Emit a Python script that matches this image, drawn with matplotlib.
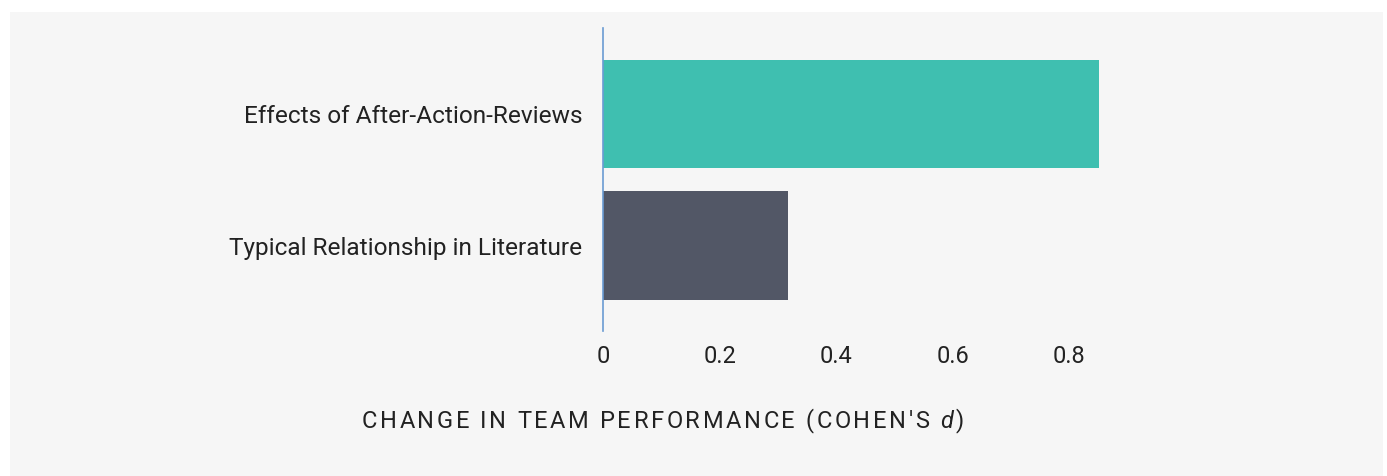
import matplotlib
matplotlib.use("Agg")
from matplotlib import pyplot as plt

categories = ['Typical Relationship in Literature', 'Effects of After-Action-Reviews']
values = [0.318, 0.85]
colors = ['#525766', '#3fbfb0']
xticks = [0, 0.2, 0.4, 0.6, 0.8]
xtick_labels = ['0', '0.2', '0.4', '0.6', '0.8']
xlabel_parts = [("CHANGE IN TEAM PERFORMANCE (COHEN'S ", 'normal'), ('d', 'italic'), (')', 'normal')]

W, H = 1387, 476
fig = plt.figure(figsize=(W / 100, H / 100), dpi=100)
fig.patch.set_facecolor('white')

# light gray panel behind everything
bg = fig.add_axes([10 / W, 0, 1373 / W, 464 / H], zorder=0)
bg.set_axis_off()
bg.add_patch(plt.Rectangle((0, 0), 1, 1, color='#f6f6f6', transform=bg.transAxes))

# axes: 0 at x=603, y from 28 to 331 px
left, right = 603 / W, 1380 / W
top, bottom = 1 - 28 / H, 1 - 331 / H
ax = fig.add_axes([left, bottom, right - left, top - bottom], zorder=1)
ax.set_facecolor('none')

px_per_unit = 583
ax.set_xlim(0, (1380 - 603) / px_per_unit)
ax.set_ylim(-0.65, 1.655)

ax.barh(range(len(categories)), values, height=0.825, color=colors, zorder=2)

for s in ['top', 'right', 'bottom']:
    ax.spines[s].set_visible(False)
ax.spines['left'].set_color('#6a9bd3')
ax.spines['left'].set_linewidth(1.2)

ax.set_yticks(range(len(categories)))
ax.set_yticklabels(categories, fontsize=17.6, color='#222222', family='Roboto')
ax.tick_params(axis='y', length=0, pad=15)
ax.set_xticks(xticks)
ax.set_xticklabels(xtick_labels, fontsize=17, color='#222222', family='Roboto')
ax.tick_params(axis='x', length=0, pad=10)

# letter-spaced x label, drawn char by char
renderer = fig.canvas.get_renderer()
tracking = 2.6
a1 = fig.text(0, 0, 'a a', fontsize=17, family='Roboto')
a2 = fig.text(0, 0, 'aa', fontsize=17, family='Roboto')
space_w = a1.get_window_extent(renderer).width - a2.get_window_extent(renderer).width
a1.remove()
a2.remove()

x = 0.0
chars = []
for part, style in xlabel_parts:
    for ch in part:
        t = fig.text(0, 1 - 421 / H, ch, ha='left', va='center', fontsize=17,
                     color='#222222', family='Roboto', style=style, zorder=3)
        w = space_w if ch == ' ' else t.get_window_extent(renderer).width
        chars.append((t, x))
        x += w + tracking
total = x - tracking
start = 663 - total / 2
for t, off in chars:
    t.set_x((start + off) / W)

fig.savefig('out.png', dpi=100, facecolor=fig.get_facecolor())
